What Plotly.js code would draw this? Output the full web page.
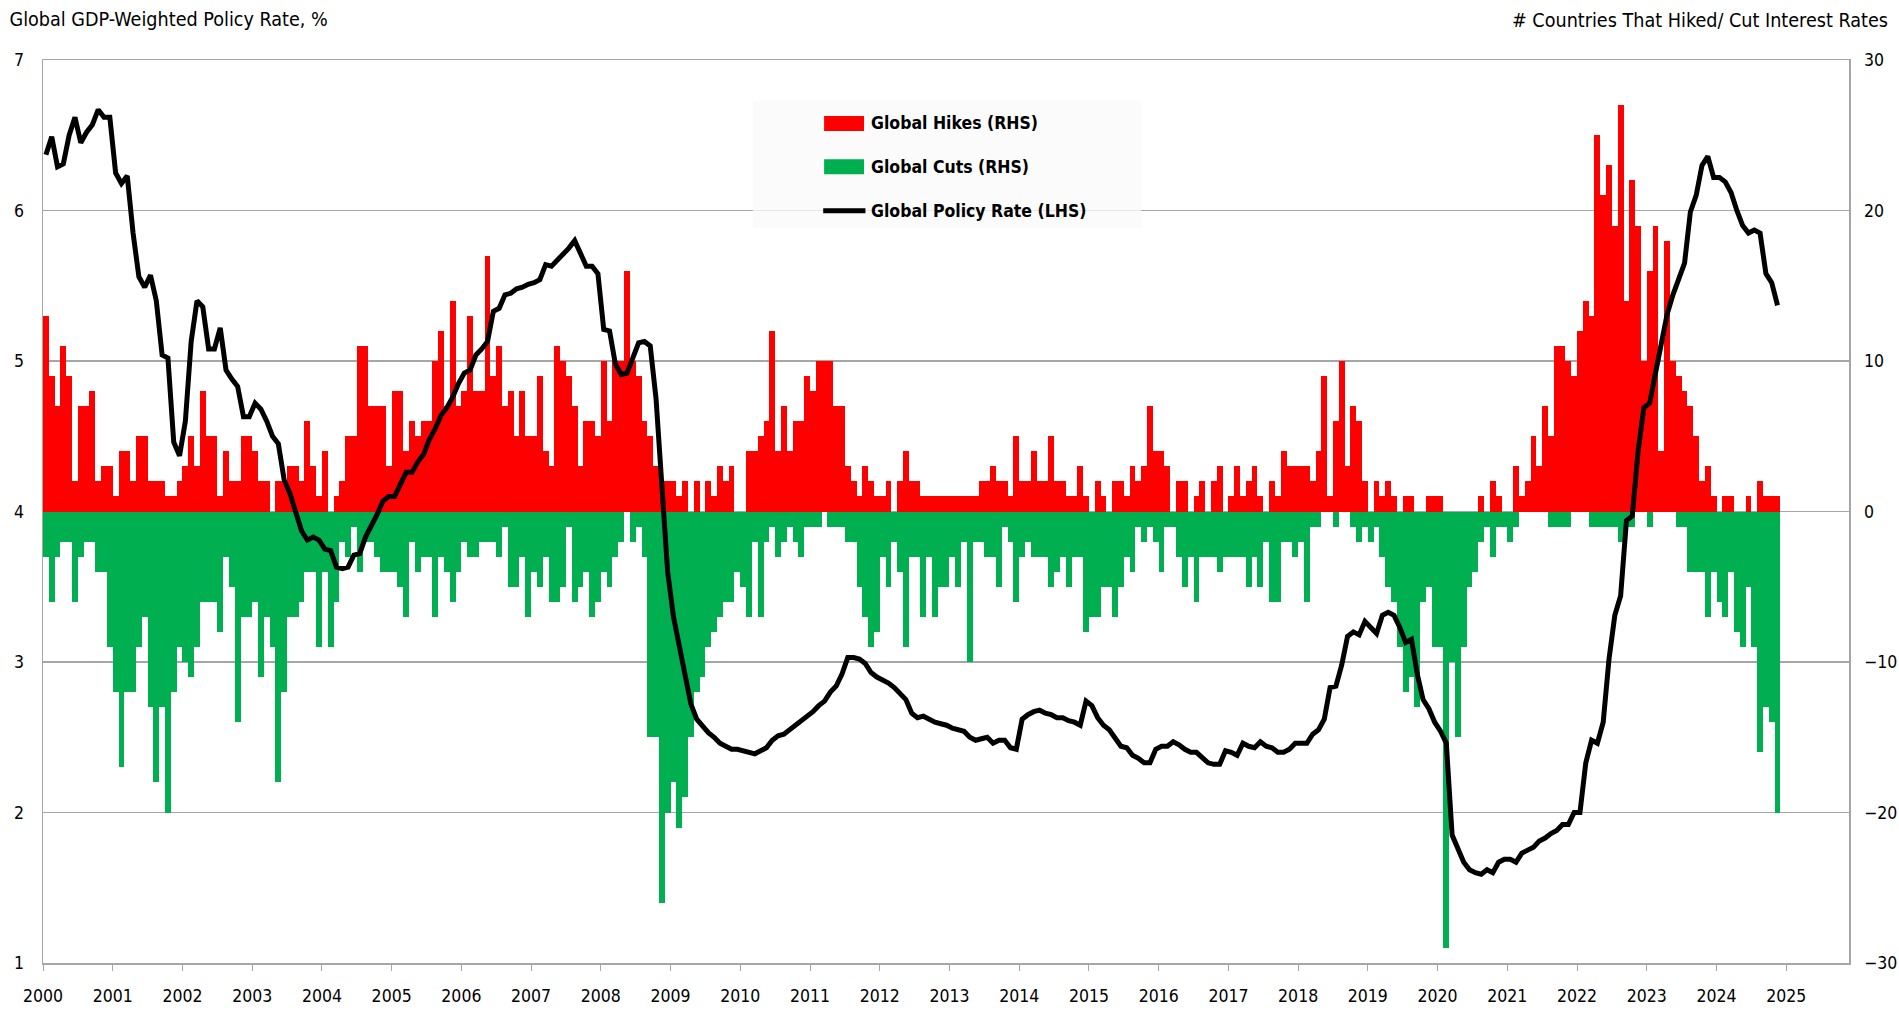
<!DOCTYPE html>
<html>
<head>
<meta charset="utf-8">
<script src="https://cdn.plot.ly/plotly-3.0.1.min.js"></script>
<style>
  html, body { margin: 0; padding: 0; background: #ffffff; }
  #chart { width: 1899px; height: 1013px; }
</style>
</head>
<body>
<div id="chart"></div>
<script>
// Monthly data, Jan 2000 .. Nov 2024
const startYear = 2000;

// Number of countries that hiked rates (RHS)
const hikes = [
  13, 9, 7, 11, 9, 2, 7, 7, 8, 2, 3, 3,      // 2000
  1, 4, 4, 2, 5, 5, 2, 2, 2, 1, 1, 2,        // 2001
  3, 5, 3, 8, 5, 5, 1, 4, 2, 2, 5, 5,        // 2002
  4, 2, 2, 0, 2, 2, 3, 3, 2, 6, 3, 1,        // 2003
  4, 0, 1, 2, 5, 5, 11, 11, 7, 7, 7, 3,      // 2004
  8, 8, 4, 6, 5, 6, 6, 10, 12, 7, 14, 7,     // 2005
  8, 13, 8, 8, 17, 9, 11, 7, 8, 5, 8, 5,     // 2006
  5, 9, 4, 3, 11, 10, 9, 7, 3, 6, 6, 5,      // 2007
  10, 6, 10, 10, 16, 10, 9, 6, 5, 3, 2, 2,   // 2008
  2, 1, 2, 0, 2, 0, 2, 1, 3, 2, 3, 0,        // 2009
  0, 4, 4, 5, 6, 12, 4, 7, 4, 6, 6, 9,       // 2010
  8, 10, 10, 10, 7, 7, 3, 2, 1, 3, 2, 1,     // 2011
  1, 2, 0, 2, 4, 2, 2, 1, 1, 1, 1, 1,        // 2012
  1, 1, 1, 1, 1, 2, 2, 3, 2, 2, 1, 5,        // 2013
  2, 2, 4, 2, 2, 5, 2, 2, 1, 1, 3, 1,        // 2014
  0, 2, 1, 0, 2, 2, 1, 3, 2, 3, 7, 4,        // 2015
  4, 3, 0, 2, 2, 0, 1, 2, 0, 2, 3, 0,        // 2016
  1, 3, 1, 2, 3, 1, 0, 2, 1, 4, 3, 3,        // 2017
  3, 3, 2, 4, 9, 1, 6, 10, 3, 7, 6, 2,       // 2018
  0, 2, 1, 2, 1, 0, 1, 1, 0, 0, 1, 1,        // 2019
  1, 0, 0, 0, 0, 0, 0, 1, 0, 2, 1, 0,        // 2020
  0, 3, 1, 2, 5, 3, 7, 5, 11, 11, 10, 9,     // 2021
  12, 14, 13, 25, 21, 23, 19, 27, 14, 22, 19, 10, // 2022
  16, 19, 4, 18, 10, 9, 8, 7, 5, 2, 3, 1,    // 2023
  0, 1, 1, 0, 0, 1, 0, 2, 1, 1, 1            // 2024
];

// Number of countries that cut rates (RHS, drawn below zero)
const cuts = [
  3, 6, 3, 2, 2, 6, 3, 2, 2, 4, 4, 9,        // 2000
  12, 17, 12, 12, 9, 7, 13, 18, 13, 20, 12, 9, // 2001
  10, 11, 9, 6, 6, 6, 8, 3, 5, 14, 7, 7,     // 2002
  6, 11, 7, 9, 18, 12, 7, 7, 6, 4, 4, 9,     // 2003
  4, 9, 6, 2, 3, 1, 4, 2, 2, 3, 4, 4,        // 2004
  4, 5, 7, 2, 4, 3, 3, 7, 3, 4, 6, 4,        // 2005
  2, 3, 3, 2, 2, 2, 3, 1, 5, 5, 3, 7,        // 2006
  4, 5, 3, 6, 6, 5, 1, 6, 5, 4, 7, 6,        // 2007
  4, 5, 3, 2, 0, 2, 1, 3, 15, 15, 26, 20,    // 2008
  18, 21, 19, 15, 12, 11, 9, 8, 7, 6, 6, 4,  // 2009
  5, 7, 2, 7, 2, 1, 3, 2, 1, 2, 3, 1,        // 2010
  1, 1, 0, 1, 1, 1, 2, 2, 5, 7, 9, 8,        // 2011
  3, 5, 2, 4, 9, 3, 3, 7, 3, 7, 5, 5,        // 2012
  3, 5, 2, 10, 2, 2, 3, 3, 5, 1, 2, 6,       // 2013
  3, 2, 3, 3, 3, 5, 4, 3, 5, 3, 3, 8,        // 2014
  7, 7, 5, 5, 7, 5, 3, 4, 1, 2, 1, 2,        // 2015
  4, 1, 1, 3, 5, 3, 6, 3, 3, 3, 4, 3,        // 2016
  3, 3, 3, 5, 3, 5, 2, 6, 6, 2, 2, 3,        // 2017
  2, 6, 1, 1, 0, 0, 1, 0, 0, 1, 2, 1,        // 2018
  2, 1, 3, 5, 6, 9, 12, 11, 13, 6, 5, 9,     // 2019
  9, 29, 10, 15, 9, 5, 4, 2, 1, 3, 1, 1,     // 2020
  2, 1, 0, 0, 0, 0, 0, 1, 1, 1, 1, 0,        // 2021
  0, 0, 1, 1, 1, 1, 1, 2, 1, 1, 0, 0,        // 2022
  1, 0, 0, 0, 0, 1, 1, 4, 4, 4, 7, 4,        // 2023
  6, 7, 4, 8, 9, 5, 9, 16, 13, 14, 20        // 2024
];

// Global GDP-weighted policy rate, % (LHS)
const policyRate = [
  6.37, 6.49, 6.29, 6.31, 6.50, 6.62, 6.45, 6.52, 6.57, 6.67, 6.62, 6.62, // 2000
  6.25, 6.18, 6.23, 5.85, 5.56, 5.49, 5.57, 5.40, 5.04, 5.02, 4.46, 4.37, // 2001
  4.60, 5.13, 5.40, 5.36, 5.08, 5.08, 5.22, 4.94, 4.88, 4.83, 4.63, 4.63, // 2002
  4.72, 4.68, 4.60, 4.50, 4.45, 4.21, 4.12, 4.00, 3.87, 3.81, 3.83, 3.81, // 2003
  3.75, 3.74, 3.63, 3.62, 3.63, 3.71, 3.72, 3.83, 3.90, 3.98, 4.07, 4.10, // 2004
  4.10, 4.18, 4.26, 4.26, 4.33, 4.38, 4.48, 4.55, 4.64, 4.69, 4.76, 4.85, // 2005
  4.92, 4.94, 5.04, 5.08, 5.13, 5.33, 5.35, 5.44, 5.45, 5.48, 5.49, 5.51, // 2006
  5.52, 5.54, 5.64, 5.63, 5.67, 5.70, 5.75, 5.80, 5.71, 5.63, 5.63, 5.58, // 2007
  5.21, 5.20, 4.98, 4.91, 4.92, 5.02, 5.12, 5.13, 5.10, 4.75, 4.20, 3.60, // 2008
  3.30, 3.10, 2.88, 2.72, 2.62, 2.57, 2.53, 2.50, 2.46, 2.44, 2.42, 2.42, // 2009
  2.41, 2.40, 2.39, 2.41, 2.43, 2.48, 2.51, 2.52, 2.55, 2.58, 2.60, 2.63, // 2010
  2.67, 2.71, 2.74, 2.80, 2.84, 2.92, 3.03, 3.03, 3.02, 2.99, 2.93, 2.90, // 2011
  2.88, 2.86, 2.83, 2.79, 2.75, 2.66, 2.63, 2.64, 2.62, 2.60, 2.59, 2.58, // 2012
  2.56, 2.55, 2.54, 2.50, 2.48, 2.49, 2.50, 2.46, 2.48, 2.48, 2.43, 2.42, // 2013
  2.62, 2.65, 2.67, 2.68, 2.66, 2.65, 2.63, 2.63, 2.61, 2.60, 2.58, 2.74, // 2014
  2.71, 2.63, 2.58, 2.55, 2.49, 2.44, 2.43, 2.38, 2.36, 2.33, 2.33, 2.42, // 2015
  2.44, 2.44, 2.47, 2.45, 2.42, 2.40, 2.40, 2.36, 2.33, 2.32, 2.32, 2.41, // 2016
  2.40, 2.38, 2.46, 2.44, 2.43, 2.47, 2.44, 2.43, 2.40, 2.40, 2.42, 2.46, // 2017
  2.46, 2.46, 2.52, 2.55, 2.62, 2.83, 2.84, 2.98, 3.17, 3.20, 3.18, 3.27, // 2018
  3.23, 3.19, 3.31, 3.33, 3.31, 3.23, 3.13, 3.15, 2.92, 2.75, 2.69, 2.60, // 2019
  2.54, 2.46, 1.85, 1.75, 1.67, 1.62, 1.60, 1.59, 1.62, 1.60, 1.67, 1.69, // 2020
  1.69, 1.67, 1.73, 1.75, 1.77, 1.81, 1.83, 1.86, 1.88, 1.92, 1.92, 2.00, // 2021
  2.00, 2.33, 2.48, 2.46, 2.60, 3.02, 3.31, 3.44, 3.94, 3.97, 4.40, 4.69, // 2022
  4.72, 4.92, 5.13, 5.31, 5.44, 5.54, 5.65, 5.99, 6.10, 6.30, 6.36, 6.22, // 2023
  6.22, 6.19, 6.12, 6.00, 5.90, 5.85, 5.87, 5.85, 5.58, 5.52, 5.37        // 2024
];

const seriesNames = ['Global Hikes (RHS)', 'Global Cuts (RHS)', 'Global Policy Rate (LHS)'];
const seriesColors = ['#ff0000', '#00b050', '#000000'];
const leftTitle = 'Global GDP-Weighted Policy Rate, %';
const rightTitle = '# Countries That Hiked/ Cut Interest Rates';

// month index -> middle of that month, in decimal years
const months = hikes.map((_, i) => startYear + (i + 0.5) / 12);
const monthWidth = 1 / 12;

const FONT = '"Liberation Sans Narrow", "Arial Narrow", "DejaVu Sans Condensed", "Liberation Sans", sans-serif';
const GRID = '#a6a6a6';

const traces = [
  {
    type: 'bar', name: seriesNames[0], x: months, y: hikes,
    width: monthWidth, marker: { color: seriesColors[0], line: { width: 0 } },
    yaxis: 'y', showlegend: false
  },
  {
    type: 'bar', name: seriesNames[1], x: months, y: cuts.map(v => -v),
    width: monthWidth, marker: { color: seriesColors[1], line: { width: 0 } },
    yaxis: 'y', showlegend: false
  },
  {
    type: 'scatter', mode: 'lines', name: seriesNames[2], x: months, y: policyRate,
    line: { color: seriesColors[2], width: 5 },
    yaxis: 'y2', showlegend: false
  }
];

// Legend box (drawn by hand, in paper coordinates)
const legendBox = { x0: 0.3931, x1: 0.6080, y0: 0.8140, y1: 0.9552 };
const legendRows = [0.9297, 0.8819, 0.8331];
const swatchX = [0.4325, 0.4546];
const swatchHalfH = 0.0083;
const legendTextX = 0.4574;

const shapes = [
  {
    type: 'rect', xref: 'paper', yref: 'paper', layer: 'above',
    x0: legendBox.x0, x1: legendBox.x1, y0: legendBox.y0, y1: legendBox.y1,
    fillcolor: 'rgba(250,250,250,0.78)', line: { width: 0 }
  },
  {
    type: 'rect', xref: 'paper', yref: 'paper', layer: 'above',
    x0: swatchX[0], x1: swatchX[1], y0: legendRows[0] - swatchHalfH, y1: legendRows[0] + swatchHalfH,
    fillcolor: seriesColors[0], line: { width: 0 }
  },
  {
    type: 'rect', xref: 'paper', yref: 'paper', layer: 'above',
    x0: swatchX[0], x1: swatchX[1], y0: legendRows[1] - swatchHalfH, y1: legendRows[1] + swatchHalfH,
    fillcolor: seriesColors[1], line: { width: 0 }
  },
  {
    type: 'line', xref: 'paper', yref: 'paper', layer: 'above',
    x0: swatchX[0] - 0.0005, x1: swatchX[1] + 0.0008, y0: legendRows[2], y1: legendRows[2],
    line: { color: seriesColors[2], width: 5 }
  }
];

const annotations = [
  {
    text: rightTitle, xref: 'paper', yref: 'paper',
    x: 1.0227, xanchor: 'right', y: 1.044, yanchor: 'middle',
    showarrow: false, font: { family: FONT, size: 19.6, color: '#000' }
  }
].concat(seriesNames.map((name, k) => ({
  text: '<b>' + name + '</b>', xref: 'paper', yref: 'paper',
  x: legendTextX, xanchor: 'left', y: legendRows[k], yanchor: 'middle',
  showarrow: false, font: { family: FONT, size: 17.5, color: '#000' }
})));

const layout = {
  width: 1899, height: 1013,
  margin: { l: 43, r: 50, t: 60, b: 50, pad: 0 },
  paper_bgcolor: '#ffffff', plot_bgcolor: '#ffffff',
  font: { family: FONT, size: 18, color: '#000000' },
  barmode: 'relative', bargap: 0,
  showlegend: false,
  title: {
    text: leftTitle, x: 0.005, xanchor: 'left', xref: 'container',
    y: 0.981, yanchor: 'middle', yref: 'container',
    font: { family: FONT, size: 19.6, color: '#000000' }
  },
  xaxis: {
    range: [2000, 2025.9], tick0: 2000, dtick: 1, tickformat: 'd',
    ticks: 'outside', ticklen: 6, tickcolor: GRID, tickwidth: 1,
    showline: true, linecolor: GRID, linewidth: 1.5, mirror: true,
    showgrid: false, zeroline: false, ticklabelstandoff: 10,
    tickfont: { family: FONT, size: 17.5, color: '#000' }
  },
  yaxis: {
    side: 'right', range: [-30, 30], dtick: 10, tick0: -30,
    showgrid: true, gridcolor: GRID, gridwidth: 1.2,
    zeroline: false, showline: true, linecolor: GRID, linewidth: 1.5,
    ticks: '', ticklabelstandoff: 10,
    tickfont: { family: FONT, size: 17.5, color: '#000' }
  },
  yaxis2: {
    overlaying: 'y', side: 'left', range: [1, 7], dtick: 1, tick0: 1,
    showgrid: false, zeroline: false, showline: true, linecolor: GRID, linewidth: 1.5,
    ticks: '', ticklabelstandoff: 14,
    tickfont: { family: FONT, size: 17.5, color: '#000' }
  },
  shapes: shapes,
  annotations: annotations
};

Plotly.newPlot('chart', traces, layout, { displayModeBar: false, staticPlot: true });
</script>
</body>
</html>
